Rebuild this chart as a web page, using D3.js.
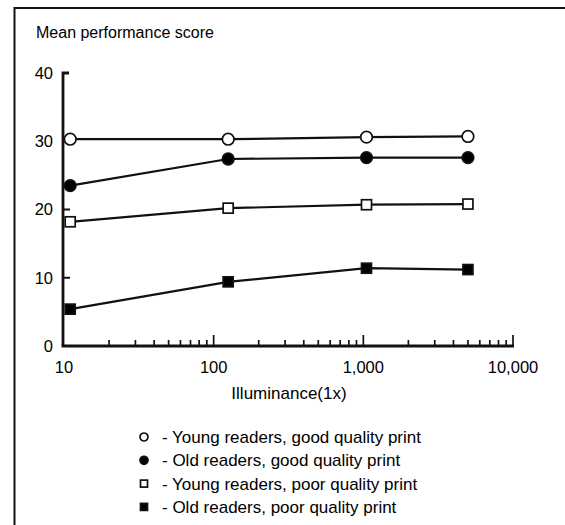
<!DOCTYPE html>
<html>
<head>
<meta charset="utf-8">
<script src="https://cdn.jsdelivr.net/npm/d3@7"></script>
<style>
  body { margin: 0; background: #fff; }
  svg { display: block; font-family: Arial, "Liberation Sans", sans-serif; }
</style>
</head>
<body>
<div id="chart"></div>
<script>
// Chart data
var illuminance = [11, 125, 1050, 5000];
var youngGood = [30.3, 30.3, 30.6, 30.7];
var oldGood = [23.5, 27.4, 27.6, 27.6];
var youngPoor = [18.2, 20.2, 20.7, 20.8];
var oldPoor = [5.4, 9.4, 11.4, 11.2];
var yTicks = [0, 10, 20, 30, 40];
var xTicks = [10, 100, 1000, 10000];
var xTickLabels = ["10", "100", "1,000", "10,000"];
var seriesNames = [
  "- Young readers, good quality print",
  "- Old readers, good quality print",
  "- Young readers, poor quality print",
  "- Old readers, poor quality print"
];

var svgWidth = 565;
var svgHeight = 525;

var series = [
  { name: seriesNames[0], values: youngGood, shape: "circle", fill: "#fff" },
  { name: seriesNames[1], values: oldGood, shape: "circle", fill: "#000" },
  { name: seriesNames[2], values: youngPoor, shape: "square", fill: "#fff" },
  { name: seriesNames[3], values: oldPoor, shape: "square", fill: "#000" }
];

var svg = d3.select("#chart")
  .append("svg")
  .attr("width", svgWidth)
  .attr("height", svgHeight);

// outer frame (runs past the window on the right and bottom)
svg.append("rect")
  .attr("x", 14.5)
  .attr("y", 8)
  .attr("width", 700)
  .attr("height", 700)
  .attr("fill", "none")
  .attr("stroke", "#111")
  .attr("stroke-width", 2);

var x = d3.scaleLog().domain([10, 10000]).range([64, 513]);
var y = d3.scaleLinear().domain([0, 40]).range([346, 73]);

// y-axis title
svg.append("text")
  .attr("x", 36)
  .attr("y", 38)
  .attr("font-size", 16)
  .text("Mean performance score");

// y axis line with a small hook at the top
svg.append("path")
  .attr("d", `M${x(10) + 5},${y(40)} L${x(10) - 1},${y(40)} L${x(10) - 1},${y(0)}`)
  .attr("fill", "none")
  .attr("stroke", "#111")
  .attr("stroke-width", 2.8);

var yGroup = svg.append("g");
yGroup.selectAll("line")
  .data(yTicks.filter(d => d > 0 && d < 40))
  .enter()
  .append("line")
  .attr("x1", x(10))
  .attr("x2", x(10) + 6)
  .attr("y1", d => y(d))
  .attr("y2", d => y(d))
  .attr("stroke", "#111")
  .attr("stroke-width", 2);

yGroup.selectAll("text")
  .data(yTicks)
  .enter()
  .append("text")
  .attr("x", 53)
  .attr("y", d => y(d))
  .attr("dy", "0.36em")
  .attr("text-anchor", "end")
  .attr("font-size", 16.5)
  .text(d => d);

// x axis line
svg.append("line")
  .attr("x1", x(10) - 2.4)
  .attr("x2", x(10000) + 1)
  .attr("y1", y(0))
  .attr("y2", y(0))
  .attr("stroke", "#111")
  .attr("stroke-width", 2.8);

// minor / major log ticks pointing up
var logTicks = x.ticks().filter(d => d > 10);
svg.append("g")
  .selectAll("line")
  .data(logTicks)
  .enter()
  .append("line")
  .attr("x1", d => x(d))
  .attr("x2", d => x(d))
  .attr("y1", y(0))
  .attr("y2", d => xTicks.indexOf(d) >= 0 ? y(0) - 11 : y(0) - 6)
  .attr("stroke", "#111")
  .attr("stroke-width", 1.7);

svg.append("g")
  .selectAll("text")
  .data(xTicks)
  .enter()
  .append("text")
  .attr("x", d => x(d))
  .attr("y", 373)
  .attr("text-anchor", "middle")
  .attr("font-size", 16.5)
  .text((d, i) => xTickLabels[i]);

// x-axis title
svg.append("text")
  .attr("x", 289)
  .attr("y", 399)
  .attr("text-anchor", "middle")
  .attr("font-size", 17)
  .text("Illuminance(1x)");

// lines and markers
var line = d3.line()
  .x((d, i) => x(illuminance[i]))
  .y(d => y(d));

function drawMarker(g, shape, fill, size) {
  if (shape === "circle") {
    g.append("circle")
      .attr("r", size)
      .attr("fill", fill)
      .attr("stroke", "#111")
      .attr("stroke-width", 1.7);
  } else {
    g.append("rect")
      .attr("x", -size)
      .attr("y", -size)
      .attr("width", size * 2)
      .attr("height", size * 2)
      .attr("fill", fill)
      .attr("stroke", "#111")
      .attr("stroke-width", 1.7);
  }
}

series.forEach(function(s) {
  svg.append("path")
    .attr("d", line(s.values))
    .attr("fill", "none")
    .attr("stroke", "#111")
    .attr("stroke-width", 2.2);

  s.values.forEach(function(v, i) {
    var g = svg.append("g")
      .attr("transform", `translate(${x(illuminance[i])}, ${y(v)})`);
    drawMarker(g, s.shape, s.fill, s.shape === "circle" ? 5.8 : 5);
  });
});

// legend
var legend = svg.append("g");
series.forEach(function(s, i) {
  var ly = 437 + i * 23.3;
  var g = legend.append("g")
    .attr("transform", `translate(144, ${ly})`);
  drawMarker(g, s.shape, s.fill, s.shape === "circle" ? 4 : 3.5);
  legend.append("text")
    .attr("x", 162)
    .attr("y", ly)
    .attr("dy", "0.36em")
    .attr("font-size", 17)
    .text(s.name);
});
</script>
</body>
</html>
